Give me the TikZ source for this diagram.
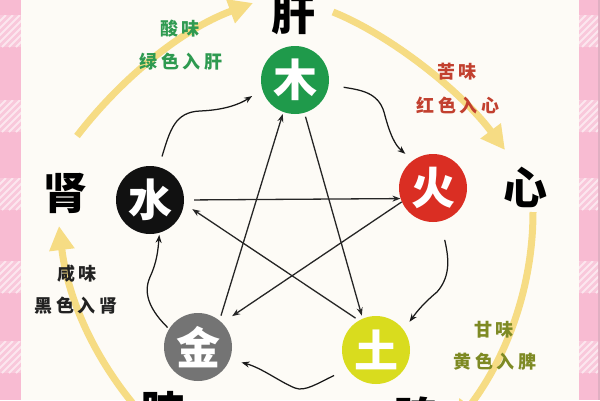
\documentclass[tikz,border=0pt]{standalone}
\usepackage{fontspec}
\setmainfont{Noto Sans CJK SC}
\usetikzlibrary{arrows.meta}
\definecolor{bg}{HTML}{FDFBF6}
\definecolor{pinkband}{HTML}{F8BBD2}
\definecolor{mugreen}{HTML}{1F9A4B}
\definecolor{huored}{HTML}{DA2E23}
\definecolor{tuyellow}{HTML}{D9DC1E}
\definecolor{jingray}{HTML}{747474}
\definecolor{shuiblack}{HTML}{111111}
\definecolor{arcyellow}{HTML}{F6DC84}
\definecolor{txtgreen}{HTML}{2E9A50}
\definecolor{txtred}{HTML}{C2402F}
\definecolor{txtolive}{HTML}{7E8A24}
\definecolor{txtblack}{HTML}{222222}
\begin{document}
\begin{tikzpicture}[x=1pt,y=-1pt,
  element/.style={circle, minimum size=68pt, inner sep=0pt, text=white,
    font=\fontsize{44}{44}\selectfont\bfseries},
  organ/.style={font=\fontsize{44}{44}\selectfont\bfseries, inner sep=0pt, text=black},
  note/.style={font=\fontsize{18}{18}\selectfont\bfseries\addfontfeature{LetterSpace=22}, inner sep=0pt},
  shengarrow/.style={-{Stealth[length=8pt,width=6pt]}, line width=1.25pt, black!90},
  kearrow/.style={-{Stealth[length=8pt,width=6pt]}, line width=1.3pt, black!85},
  seasonarc/.style={line width=7pt, arcyellow, -{Triangle[length=24pt 0,width=24pt 0]}},
  hatch/.style={white, opacity=0.55, line width=2pt}
]
\useasboundingbox (0,0) rectangle (600,400);
\clip (0,0) rectangle (600,400);
\fill[bg] (0,0) rectangle (600,400);

% pink side bands
\fill[pinkband] (0,0) rectangle (21,400);
\fill[pinkband] (579,0) rectangle (598,400);
\fill[pinkband!80!gray] (598,0) rectangle (600,400);
\foreach \yy in {15,100,178,261,341}{
  \begin{scope}
    \clip (0,\yy) rectangle (21,\yy+32);
    \fill[white, opacity=0.2] (0,\yy) rectangle (21,\yy+32);
    \foreach \k in {-40,-33,...,30} \draw[hatch] (\k,\yy+32) -- (\k+32,\yy);
  \end{scope}
  \begin{scope}
    \clip (579,\yy) rectangle (598,\yy+32);
    \fill[white, opacity=0.2] (579,\yy) rectangle (598,\yy+32);
    \foreach \k in {540,547,...,610} \draw[hatch] (\k,\yy+32) -- (\k+32,\yy);
  \end{scope}
}

% seasonal yellow arcs
\coordinate (a1s) at (77,136);  \coordinate (a1e) at (253,3);
\coordinate (a2s) at (333,12);  \coordinate (a2e) at (505,150);
\coordinate (a3s) at (533,212); \coordinate (a3e) at (455,425);
\coordinate (a4s) at (140,412); \coordinate (a4e) at (59,226);
\draw[seasonarc] (a1s) .. controls (120,80) and (180,30) .. (a1e);
\draw[seasonarc] (a2s) .. controls (390,35) and (460,90) .. (a2e);
\draw[seasonarc] (a3s) .. controls (533,290) and (505,360) .. (a3e);
\draw[seasonarc] (a4s) .. controls (95,360) and (68,300) .. (a4e);

% organ labels
\node[organ] (gan) at (293,15) {肝};
\node[organ] (xin) at (525,187) {心};
\node[organ] (shen) at (65,193) {肾};
\node[organ] (fei) at (162,412) {肺};
\node[organ] (pi) at (415,418) {脾};

% notes
\node[note, text=txtgreen] (suan) at (180,29) {酸味};
\node[note, text=txtgreen] (lvse) at (181,62) {绿色入肝};
\node[note, text=txtred] (ku) at (457,72) {苦味};
\node[note, text=txtred] (hongse) at (458,105) {红色入心};
\node[note, text=txtolive] (gantaste) at (494,330) {甘味};
\node[note, text=txtolive] (huangse) at (495,362) {黄色入脾};
\node[note, text=txtblack] (xian) at (77,274) {咸味};
\node[note, text=txtblack] (heise) at (76,306) {黑色入肾};

% element circles
\node[element, fill=mugreen] (mu) at (295,80) {木};
\node[element, fill=huored] (huo) at (433,188) {火};
\node[element, fill=tuyellow] (tu) at (376,350) {土};
\node[element, fill=jingray] (jin) at (198,347) {金};
\node[element, fill=shuiblack] (shui) at (150,200) {水};

% controlling cycle (star)
\draw[kearrow, shorten <=10pt] (shui.0) -- (huo.198);
\draw[kearrow, shorten >=12pt] (huo.204) -- (jin.45);
\draw[kearrow, shorten <=5pt, shorten >=2pt] (jin.51) -- (mu.250);
\draw[kearrow, shorten <=4pt, shorten >=3pt] (mu.-74) -- (tu.113);
\draw[kearrow, shorten <=4pt, shorten >=10pt] (tu.120) -- (shui.-6);

% generating cycle (wavy)
\draw[shengarrow, shorten <=11pt, shorten >=12pt] (shui.75) .. controls (170,130) and (175,112) .. (200,111) .. controls (225,110) and (240,104) .. (mu.196);
\draw[shengarrow, shorten <=15pt, shorten >=10pt] (mu.-8) .. controls (360,90) and (378,92) .. (384,112) .. controls (390,135) and (395,145) .. (huo.126);
\draw[shengarrow, shorten <=19pt, shorten >=10pt] (huo.-77) .. controls (448,255) and (452,275) .. (437,292) .. controls (425,302) and (418,310) .. (tu.36);
\draw[shengarrow, shorten <=15pt, shorten >=12pt] (tu.214) .. controls (318,383) and (305,392) .. (295,388) .. controls (280,382) and (262,368) .. (jin.-21);
\draw[shengarrow, shorten <=2pt, shorten >=2pt] (jin.148) .. controls (152,312) and (142,295) .. (150,277) .. controls (157,262) and (158,250) .. (shui.-74);
\end{tikzpicture}
\end{document}
